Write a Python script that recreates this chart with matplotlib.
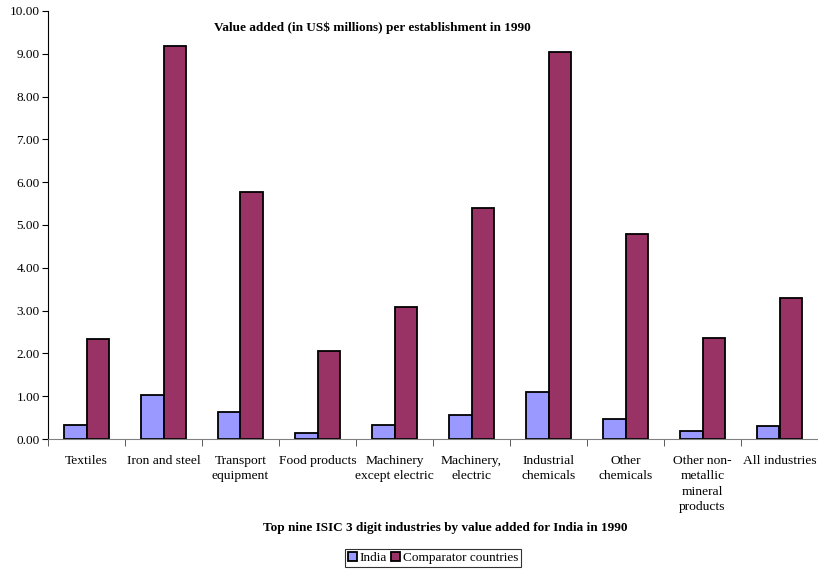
import numpy as np
import matplotlib.pyplot as plt
from matplotlib.patches import Patch

categories = ['Textiles', 'Iron and steel', 'Transport\nequipment', 'Food products',
              'Machinery\nexcept electric', 'Machinery,\nelectric', 'Industrial\nchemicals',
              'Other\nchemicals', 'Other non-\nmetallic\nmineral\nproducts', 'All industries']
india = [0.33, 1.02, 0.64, 0.15, 0.33, 0.55, 1.09, 0.46, 0.18, 0.31]
comparator = [2.33, 9.19, 5.76, 2.06, 3.08, 5.39, 9.05, 4.80, 2.37, 3.30]
yticks = np.arange(0, 10.01, 1.0)

plt.rcParams['font.family'] = ['Liberation Serif', 'DejaVu Serif']

W, H = 818, 571
fig = plt.figure(figsize=(W / 100, H / 100), dpi=100)
ax = fig.add_axes([48 / W, 1 - 439 / H, 770 / W, 428 / H])

x = np.arange(len(categories))
bw = 0.286
ax.bar(x - bw / 2, india, bw, color='#9999FF', edgecolor='black', linewidth=1.3, label='India')
ax.bar(x + bw / 2, comparator, bw, color='#993366', edgecolor='black', linewidth=1.3,
       label='Comparator countries')

ax.set_xlim(-0.5, len(categories) - 0.5)
ax.set_ylim(0, 10)
ax.set_yticks(yticks)
ax.set_yticklabels([f'{v:.2f}' for v in yticks], fontsize=9.5)

# category labels at centres, tick marks at the boundaries
ax.set_xticks(x)
ax.set_xticklabels(categories, fontsize=9.7, linespacing=1.38)
ax.tick_params(axis='x', which='major', length=0, pad=11.5)
ax.set_xticks(np.arange(-0.5, len(categories) - 0.4, 1.0), minor=True)
ax.tick_params(axis='x', which='minor', length=5, direction='out', color='#404040')
ax.tick_params(axis='y', length=4, direction='out', pad=2)

for s in ['top', 'right']:
    ax.spines[s].set_visible(False)
ax.spines['bottom'].set_color('#808080')
ax.spines['left'].set_color('black')

ax.text(0.421, 0.961, 'Value added (in US$ millions) per establishment in 1990',
        transform=ax.transAxes, ha='center', va='center', fontsize=9.55, fontweight='bold')

fig.text(445 / W, 1 - 528 / H, 'Top nine ISIC 3 digit industries by value added for India in 1990',
         ha='center', va='center', fontsize=9.5, fontweight='bold')

handles = [Patch(facecolor='#9999FF', edgecolor='black', linewidth=1.3, label='India'),
           Patch(facecolor='#993366', edgecolor='black', linewidth=1.3, label='Comparator countries')]
leg = fig.legend(handles=handles, loc='center', bbox_to_anchor=(433 / W, 1 - 558 / H), ncol=2,
                 fontsize=9.5, frameon=True, fancybox=False, edgecolor='black',
                 handlelength=0.7, handleheight=0.7, handletextpad=0.2, columnspacing=0.3,
                 borderpad=0.2, borderaxespad=0)
leg.get_frame().set_linewidth(0.8)

fig.savefig('out.png', dpi=100)
